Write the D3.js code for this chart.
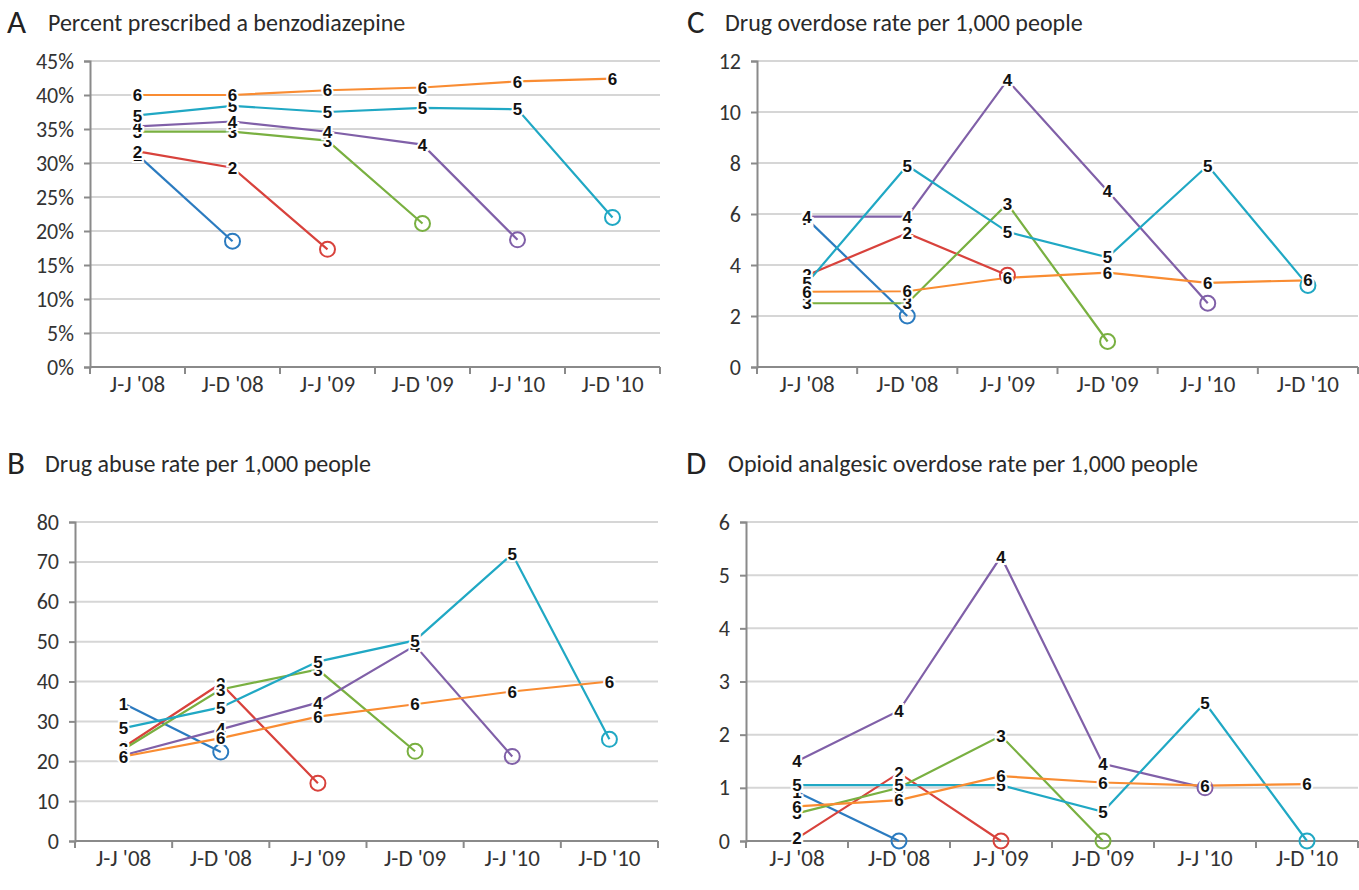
<!DOCTYPE html>
<html><head><meta charset="utf-8">
<script src="https://cdn.jsdelivr.net/npm/d3@7"></script>
<style>
body{margin:0;background:#fff;}
svg{display:block;}
</style></head>
<body>
<svg id="chart" width="1359" height="890"></svg>
<script>
const categories = ["J-J '08","J-D '08","J-J '09","J-D '09","J-J '10","J-D '10"];
const seriesNames = ["1","2","3","4","5","6"];
const seriesColors = ["#2b7bc0","#d8423c","#79b041","#8060a8","#20a8c4","#f98c32"];

// Panel A: Percent prescribed a benzodiazepine
const aS1 = [31.2, 18.5];
const aS2 = [31.7, 29.3, 17.3];
const aS3 = [34.6, 34.6, 33.3, 21.1];
const aS4 = [35.4, 36.1, 34.6, 32.7, 18.7];
const aS5 = [37.0, 38.4, 37.5, 38.1, 37.9, 22.0];
const aS6 = [40.0, 40.0, 40.7, 41.1, 42.0, 42.4];
const aTicks = [0,5,10,15,20,25,30,35,40,45];

// Panel B: Drug abuse rate per 1,000 people
const bS1 = [34.5, 22.3];
const bS2 = [23.5, 39.5, 14.5];
const bS3 = [23.0, 38.0, 43.0, 22.5];
const bS4 = [21.5, 28.0, 34.7, 49.0, 21.2];
const bS5 = [28.3, 33.5, 45.0, 50.3, 72.0, 25.5];
const bS6 = [21.2, 25.8, 31.2, 34.3, 37.5, 40.0];
const bTicks = [0,10,20,30,40,50,60,70,80];

// Panel C: Drug overdose rate per 1,000 people
const cS1 = [5.8, 2.0];
const cS2 = [3.6, 5.25, 3.6];
const cS3 = [2.5, 2.5, 6.4, 1.0];
const cS4 = [5.9, 5.9, 11.25, 6.9, 2.5];
const cS5 = [3.3, 7.9, 5.3, 4.3, 7.9, 3.2];
const cS6 = [2.95, 2.97, 3.5, 3.7, 3.3, 3.4];
const cTicks = [0,2,4,6,8,10,12];

// Panel D: Opioid analgesic overdose rate per 1,000 people
const dS1 = [0.92, 0.0];
const dS2 = [0.05, 1.28, 0.0];
const dS3 = [0.52, 1.0, 1.98, 0.0];
const dS4 = [1.5, 2.45, 5.35, 1.45, 1.0];
const dS5 = [1.05, 1.05, 1.05, 0.55, 2.6, 0.0];
const dS6 = [0.65, 0.77, 1.22, 1.1, 1.04, 1.07];
const dTicks = [0,1,2,3,4,5,6];

const panels = [
  {letter:"A", title:"Percent prescribed a benzodiazepine", series:[aS1,aS2,aS3,aS4,aS5,aS6], ticks:aTicks, fmt:d=>d+"%",
   box:{l:90,r:660,t:61,b:367}, lx:7, tx:48, ty:33, xlabY:392},
  {letter:"B", title:"Drug abuse rate per 1,000 people", series:[bS1,bS2,bS3,bS4,bS5,bS6], ticks:bTicks, fmt:d=>d,
   box:{l:75,r:658,t:522,b:841}, lx:7, tx:45, ty:474, xlabY:866},
  {letter:"C", title:"Drug overdose rate per 1,000 people", series:[cS1,cS2,cS3,cS4,cS5,cS6], ticks:cTicks, fmt:d=>d,
   box:{l:757,r:1358,t:61,b:367}, lx:687, tx:725, ty:33, xlabY:392},
  {letter:"D", title:"Opioid analgesic overdose rate per 1,000 people", series:[dS1,dS2,dS3,dS4,dS5,dS6], ticks:dTicks, fmt:d=>d,
   box:{l:746,r:1358,t:522,b:841}, lx:686, tx:728, ty:474, xlabY:866}
];

const svg = d3.select("#chart");
const FONT = "Carlito, Calibri, Lato, 'Open Sans', sans-serif";

panels.forEach(p => {
  const g = svg.append("g");
  const x = d3.scaleBand().domain(categories).range([p.box.l, p.box.r]).paddingInner(0).paddingOuter(0);
  const y = d3.scaleLinear().domain([p.ticks[0], p.ticks[p.ticks.length-1]]).range([p.box.b, p.box.t]);

  // title
  g.append("text").attr("x", p.lx).attr("y", p.ty).text(p.letter)
    .attr("font-family", FONT).attr("font-size", 33).attr("fill", "#222");
  g.append("text").attr("x", p.tx).attr("y", p.ty - 2).text(p.title)
    .attr("font-family", FONT).attr("font-size", 24).attr("fill", "#2a2a2a");

  // gridlines
  g.append("g").selectAll("line").data(p.ticks.slice(1)).join("line")
    .attr("x1", p.box.l).attr("x2", p.box.r)
    .attr("y1", d => y(d)).attr("y2", d => y(d))
    .attr("stroke", "#d6d6d6").attr("stroke-width", 2);

  // y axis
  const yAxis = d3.axisLeft(y).tickValues(p.ticks).tickFormat(p.fmt).tickSize(6).tickPadding(10);
  const ya = g.append("g").attr("transform", `translate(${p.box.l},0)`).call(yAxis);
  ya.select(".domain").attr("stroke", "#8a8a8a").attr("stroke-width", 2);
  ya.selectAll(".tick line").attr("stroke", "#8a8a8a").attr("stroke-width", 2);
  ya.selectAll(".tick text").attr("font-family", FONT).attr("font-size", 22).attr("fill", "#333");

  // x axis line with ticks at band boundaries
  const xa = g.append("g");
  xa.append("line").attr("x1", p.box.l).attr("x2", p.box.r).attr("y1", p.box.b).attr("y2", p.box.b)
    .attr("stroke", "#8a8a8a").attr("stroke-width", 2);
  const bounds = categories.map(c => x(c)).concat([x(categories[categories.length-1]) + x.bandwidth()]);
  xa.selectAll("line.tk").data(bounds).join("line").attr("class","tk")
    .attr("x1", d => d).attr("x2", d => d).attr("y1", p.box.b).attr("y2", p.box.b + 7)
    .attr("stroke", "#8a8a8a").attr("stroke-width", 2);
  xa.selectAll("text").data(categories).join("text")
    .attr("x", d => x(d) + x.bandwidth()/2).attr("y", p.xlabY)
    .attr("text-anchor", "middle").text(d => d)
    .attr("font-family", FONT).attr("font-size", 23).attr("fill", "#333");

  const cx = i => x(categories[i]) + x.bandwidth()/2;
  const line = d3.line().x((d,i) => cx(i)).y(d => y(d));

  // lines
  p.series.forEach((s, si) => {
    g.append("path").datum(s).attr("d", line).attr("fill", "none")
      .attr("stroke", seriesColors[si]).attr("stroke-width", 2.2);
  });
  // end circles (cohort ends), except series 6
  p.series.forEach((s, si) => {
    if (si === 5) return;
    const i = s.length - 1;
    g.append("circle").attr("cx", cx(i)).attr("cy", y(s[i])).attr("r", 7.5)
      .attr("fill", "none").attr("stroke", seriesColors[si]).attr("stroke-width", 2);
  });
  // labels
  p.series.forEach((s, si) => {
    const pts = si === 5 ? s.map((v,i)=>i) : s.slice(0, -1).map((v,i)=>i);
    g.append("g").selectAll("text").data(pts).join("text")
      .attr("x", i => cx(i)).attr("y", i => y(s[i]))
      .attr("dy", "0.36em").attr("text-anchor", "middle")
      .text(seriesNames[si])
      .attr("font-family", "'Liberation Sans', Arial, sans-serif").attr("font-weight", "bold")
      .attr("font-size", 17).attr("fill", "#111")
      .attr("stroke", "#fff").attr("stroke-width", 4).attr("paint-order", "stroke");
  });
});
</script>
</body></html>
